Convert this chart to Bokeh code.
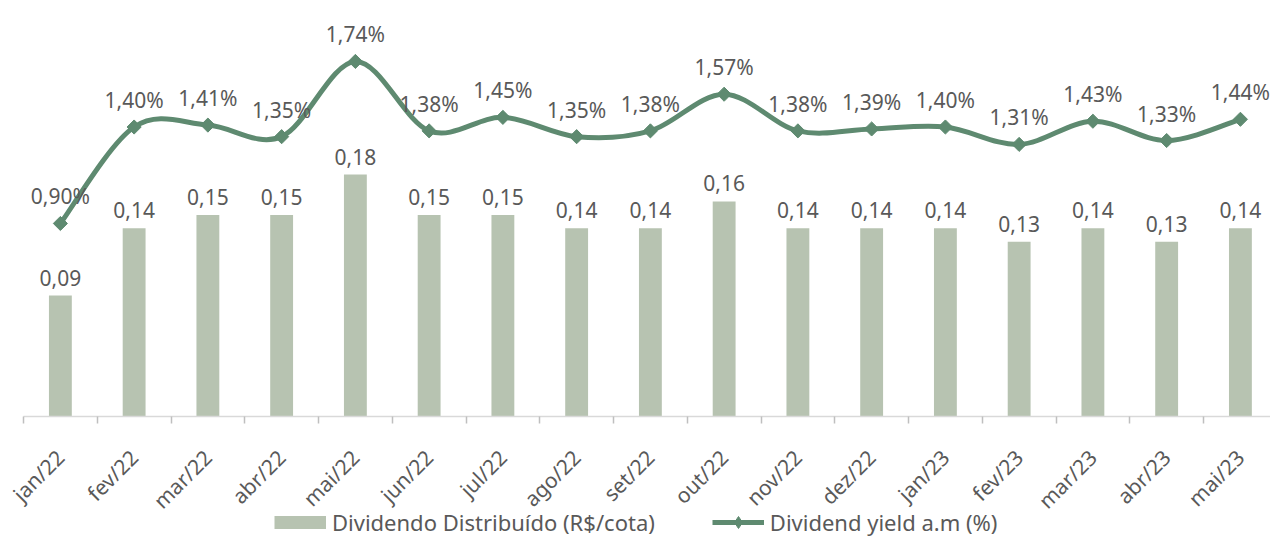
import math
from bokeh.plotting import figure
from bokeh.layouts import column
from bokeh.models import (Range1d, FixedTicker, ColumnDataSource, Legend, LegendItem)
from bokeh.core.properties import value
from bokeh.embed import file_html
from bokeh.resources import INLINE

months = ["jan/22", "fev/22", "mar/22", "abr/22", "mai/22", "jun/22", "jul/22", "ago/22",
          "set/22", "out/22", "nov/22", "dez/22", "jan/23", "fev/23", "mar/23", "abr/23", "mai/23"]
dividendo = [0.09, 0.14, 0.15, 0.15, 0.18, 0.15, 0.15, 0.14, 0.14, 0.16, 0.14, 0.14,
             0.14, 0.13, 0.14, 0.13, 0.14]
dy = [0.90, 1.40, 1.41, 1.35, 1.74, 1.38, 1.45, 1.35, 1.38, 1.57, 1.38, 1.39,
      1.40, 1.31, 1.43, 1.33, 1.44]
series_names = ["Dividendo Distribuído (R$/cota)", "Dividend yield a.m (%)"]

BAR = "#b7c3b1"
LINE = "#5e8a70"
TXT = "#595959"
FONT = "Noto Sans"

n = len(months)
xs = list(range(n))

p = figure(width=1270, height=533, output_backend="svg", toolbar_location=None,
           x_range=Range1d(-0.5, 16.408), y_range=Range1d(0, 0.3021),
           y_axis_location=None, min_border_left=23, min_border_right=0,
           min_border_top=10, min_border_bottom=117)
p.extra_y_ranges = {"dy": Range1d(-0.1006, 2.004)}
p.outline_line_color = None
p.xgrid.visible = False
p.ygrid.visible = False

bar_src = ColumnDataSource(dict(x=xs, top=dividendo,
                                lab=[f"{v:.2f}".replace(".", ",") for v in dividendo]))
p.vbar(x="x", top="top", width=0.31, source=bar_src, fill_color=BAR, line_color=None)
p.text(x="x", y="top", text="lab", source=bar_src, text_align="center",
       text_baseline="alphabetic", y_offset=-18, text_font=value(FONT),
       text_font_size="21px", text_color=TXT)

# smoothed line (Catmull-Rom style Bezier segments, as Excel smoothing)
x0, y0, x1, y1, cx0, cy0, cx1, cy1 = [], [], [], [], [], [], [], []
for i in range(n - 1):
    pm = i - 1 if i > 0 else i
    pp = i + 2 if i + 2 < n else i + 1
    x0.append(xs[i]); y0.append(dy[i])
    x1.append(xs[i + 1]); y1.append(dy[i + 1])
    cx0.append(xs[i] + (xs[i + 1] - xs[pm]) / 6.0)
    cy0.append(dy[i] + (dy[i + 1] - dy[pm]) / 6.0)
    cx1.append(xs[i + 1] - (xs[pp] - xs[i]) / 6.0)
    cy1.append(dy[i + 1] - (dy[pp] - dy[i]) / 6.0)
bez_src = ColumnDataSource(dict(x0=x0, y0=y0, x1=x1, y1=y1, cx0=cx0, cy0=cy0, cx1=cx1, cy1=cy1))
p.bezier(x0="x0", y0="y0", x1="x1", y1="y1", cx0="cx0", cy0="cy0", cx1="cx1", cy1="cy1",
         source=bez_src, line_color=LINE, line_width=5, y_range_name="dy")

dy_src = ColumnDataSource(dict(x=xs, y=dy, lab=[f"{v:.2f}%".replace(".", ",") for v in dy]))
p.scatter(x="x", y="y", source=dy_src, marker="square", angle=math.pi / 4, size=10,
          fill_color=LINE, line_color=LINE, y_range_name="dy")
p.text(x="x", y="y", text="lab", source=dy_src, text_align="center",
       text_baseline="alphabetic", y_offset=-27, text_font=value(FONT),
       text_font_size="21px", text_color=TXT, y_range_name="dy")

ax = p.xaxis[0]
ax.ticker = FixedTicker(ticks=xs, minor_ticks=[i - 0.5 for i in range(n + 1)])
ax.major_label_overrides = {i: m for i, m in enumerate(months)}
ax.major_label_orientation = math.pi / 4
ax.major_tick_line_color = None
ax.major_tick_in = 0
ax.major_tick_out = 0
ax.minor_tick_in = 0
ax.minor_tick_out = 7
ax.minor_tick_line_color = "#bfbfbf"
ax.minor_tick_line_width = 1.5
ax.axis_line_color = "#d9d9d9"
ax.axis_line_width = 1.5
ax.major_label_standoff = 30
ax.major_label_text_font = FONT
ax.major_label_text_font_size = "21px"
ax.major_label_text_color = TXT

# legend strip: a small transparent figure whose renderers share the data but lie outside its view
lg = figure(width=1270, height=33, output_backend="svg", toolbar_location=None,
            x_range=Range1d(-0.5, 16.408), y_range=Range1d(100, 101),
            x_axis_location=None, y_axis_location=None,
            min_border_left=0, min_border_right=0, min_border_top=0, min_border_bottom=0)
lg.outline_line_color = None
lg.xgrid.visible = False
lg.ygrid.visible = False
lg.border_fill_alpha = 0
lg.background_fill_alpha = 0
lg.margin = (-28, 0, 0, 0)
r_bar = lg.line(x="x", y="top", source=bar_src, line_color=BAR, line_width=13, line_cap="butt")
r_line = lg.line(x="x", y="y", source=dy_src, line_color=LINE, line_width=5)
r_mk = lg.scatter(x="x", y="y", source=dy_src, marker="diamond", size=10,
                  fill_color=LINE, line_color=LINE)
legend = Legend(items=[LegendItem(label=series_names[0], renderers=[r_bar]),
                       LegendItem(label=series_names[1], renderers=[r_line, r_mk])],
                location=(251, 1), orientation="horizontal", glyph_width=52, glyph_height=30,
                label_standoff=6, spacing=57, padding=0, margin=0,
                border_line_color=None, background_fill_alpha=0,
                label_text_font=FONT, label_text_font_size="22px", label_text_color=TXT)
lg.add_layout(legend, "center")

open("out.html", "w").write(file_html(column(p, lg, spacing=0), INLINE))
